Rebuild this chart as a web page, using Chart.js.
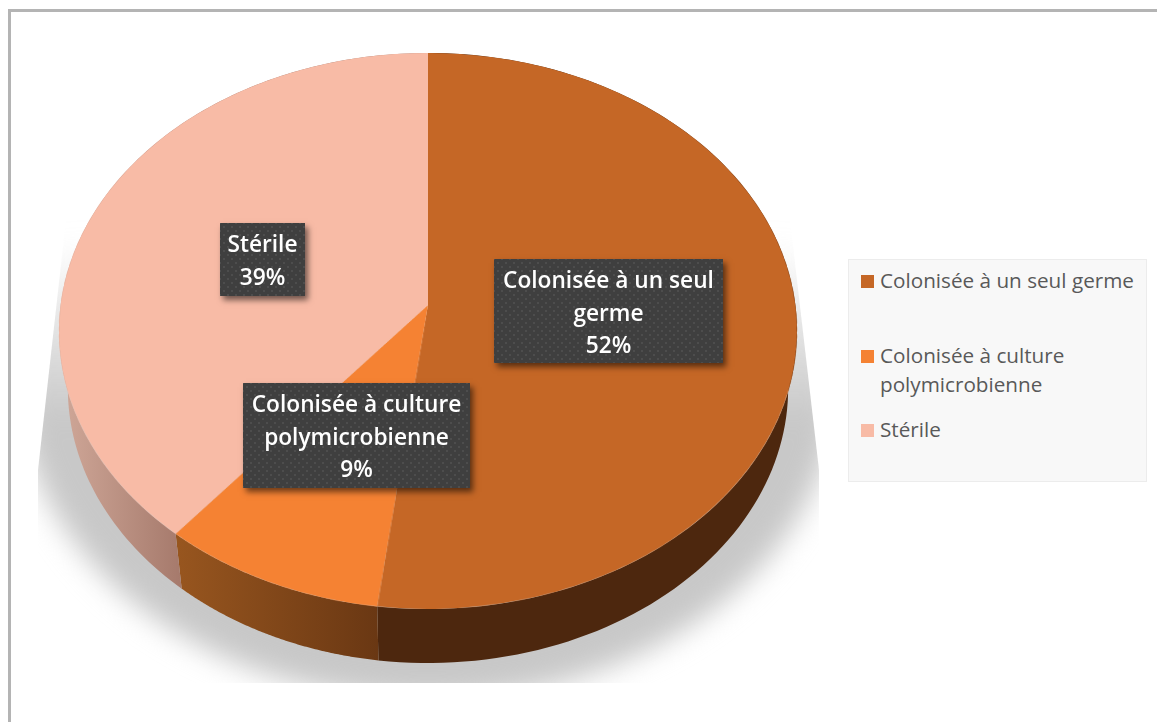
<!DOCTYPE html>
<html lang="fr">
<head>
<meta charset="utf-8">
<title>Colonisation</title>
<script src="https://cdn.jsdelivr.net/npm/chart.js@4"></script>
<style>
  html, body { margin: 0; padding: 0; background: #fff; overflow: hidden; }
  #stage { position: relative; width: 1157px; height: 722px; overflow: hidden; font-family: "Open Sans", sans-serif; filter: blur(.4px); }
  #frame { position: absolute; left: 8px; top: 9px; right: 0; bottom: 0; border-top: 3px solid #b4b4b4; border-left: 3px solid #b4b4b4; }
  #back, #pie { position: absolute; left: 0; top: 0; }
  #pie { transform-origin: 0 0; }
  .tag {
    position: absolute; box-sizing: border-box; padding-top: 5px; text-align: center;
    color: #fff; font-weight: 600; font-size: 22.7px; line-height: 32.5px;
    background-color: #3f3f3f;
    background-image: radial-gradient(rgba(255,255,255,.07) 1px, transparent 1.4px), radial-gradient(rgba(255,255,255,.07) 1px, transparent 1.4px);
    background-size: 8px 8px;
    background-position: 0 0, 4px 4px;
    box-shadow: 3px 4px 6px rgba(0,0,0,.55);
  }
  #legend { position: absolute; left: 848px; top: 259px; width: 297px; height: 221px; background: #f8f8f8; border: 1px solid #ececec; }
  .key { position: absolute; left: 12px; width: 13px; height: 13px; }
  .name { position: absolute; left: 31px; width: 262px; font-size: 20.7px; line-height: 29px; color: #595959; }
</style>
</head>
<body>
<div id="stage">
  <div id="frame"></div>
  <canvas id="back" width="1157" height="722"></canvas>
  <canvas id="pie" width="800" height="800"></canvas>
  <div id="legend"></div>
</div>
<script>
const categories = ['Colonisée à un seul germe', 'Colonisée à culture polymicrobienne', 'Stérile'];
const values = [52, 9, 39];
const sliceColors = ['#C56726', '#F58233', '#F8BBA6'];

// where the tags and legend rows sit on the page
const tagBoxes = [[494, 259, 229, 104], [243, 383, 227, 105], [220, 223, 85, 73]];
const legendRows = [6, 81, 155];

// perspective of the pie: top face and bottom rim of the side wall
const top_ = { x: 428, y: 305, sx: 367.4, sy: 275.6 };
const rim = { x: 428, y: 362.3, sx: 358.6, sy: 272.6 };
const tilt = -0.0935;

function project(face, a) {
  const w = 1 + tilt * Math.sin(a);
  return [face.x + face.sx * Math.cos(a) / w, face.y + face.sy * Math.sin(a) / w];
}

function wallFill(ctx, i) {
  if (i === 0) return '#4D270E';
  const g = i === 1 ? ctx.createLinearGradient(175, 0, 382, 0) : ctx.createLinearGradient(62, 0, 180, 0);
  if (i === 1) { g.addColorStop(0, '#98561F'); g.addColorStop(1, '#693713'); }
  else { g.addColorStop(0, '#CFA798'); g.addColorStop(1, '#A67A6C'); }
  return g;
}

const perspectivePlugin = {
  id: 'perspective',
  afterDraw(chart) {
    const arcs = chart.getDatasetMeta(0).data;
    const { x, y, outerRadius: R } = arcs[0].getProps(['x', 'y', 'outerRadius'], true);

    // homography from canvas pixels to the page, same maths as project()
    const wv = tilt / R, w1 = 1 - y * wv;
    const m = [
      top_.sx / R, 0, 0, 0,
      top_.x * wv, (top_.y * tilt + top_.sy) / R, 0, wv,
      0, 0, 1, 0,
      top_.x * w1 - top_.sx * x / R, top_.y - (top_.y * tilt + top_.sy) * y / R, 0, w1
    ];
    chart.canvas.style.transform = 'matrix3d(' + m.join(',') + ')';

    const ctx = document.getElementById('back').getContext('2d');
    ctx.clearRect(0, 0, 1157, 722);

    // floor shadow, cut off like the original picture, fading out towards the top
    ctx.save();
    ctx.beginPath();
    ctx.moveTo(66, 220); ctx.lineTo(38, 470); ctx.lineTo(38, 683);
    ctx.lineTo(819, 683); ctx.lineTo(819, 470); ctx.lineTo(790, 220);
    ctx.closePath();
    ctx.clip();
    ctx.filter = 'blur(14px)';
    const fade = ctx.createLinearGradient(0, 240, 0, 420);
    fade.addColorStop(0, 'rgba(200,200,200,0)');
    fade.addColorStop(1, 'rgba(200,200,200,1)');
    ctx.fillStyle = fade;
    ctx.beginPath();
    ctx.ellipse(428, 380, 410, 320, 0, 0, Math.PI * 2);
    ctx.fill();
    ctx.restore();

    // side wall of each slice
    arcs.forEach((arc, i) => {
      const { startAngle, endAngle } = arc.getProps(['startAngle', 'endAngle'], true);
      ctx.beginPath();
      for (let k = 0; k <= 120; k++) {
        const p = project(top_, startAngle + (endAngle - startAngle) * k / 120);
        ctx.lineTo(p[0], p[1]);
      }
      for (let k = 120; k >= 0; k--) {
        const p = project(rim, startAngle + (endAngle - startAngle) * k / 120);
        ctx.lineTo(p[0], p[1]);
      }
      ctx.closePath();
      ctx.fillStyle = wallFill(ctx, i);
      ctx.fill();
    });
  }
};

new Chart(document.getElementById('pie'), {
  type: 'pie',
  data: {
    labels: categories,
    datasets: [{ data: values, backgroundColor: sliceColors, borderWidth: 0, hoverOffset: 0 }]
  },
  options: {
    responsive: false,
    animation: false,
    events: [],
    layout: { padding: 10 },
    plugins: { legend: { display: false }, tooltip: { enabled: false } }
  },
  plugins: [perspectivePlugin]
});

// tags on the slices
const stage = document.getElementById('stage');
categories.forEach((name, i) => {
  const tag = document.createElement('div');
  const b = tagBoxes[i];
  tag.className = 'tag';
  tag.style.cssText = `left:${b[0]}px;top:${b[1]}px;width:${b[2]}px;height:${b[3]}px`;
  tag.innerHTML = `${name}<br>${values[i]}%`;
  stage.appendChild(tag);
});

// legend
const legend = document.getElementById('legend');
categories.forEach((name, i) => {
  const key = document.createElement('div');
  key.className = 'key';
  key.style.top = (legendRows[i] + 9) + 'px';
  key.style.background = sliceColors[i];
  legend.appendChild(key);
  const label = document.createElement('div');
  label.className = 'name';
  label.style.top = legendRows[i] + 'px';
  label.textContent = name;
  legend.appendChild(label);
});
</script>
</body>
</html>
